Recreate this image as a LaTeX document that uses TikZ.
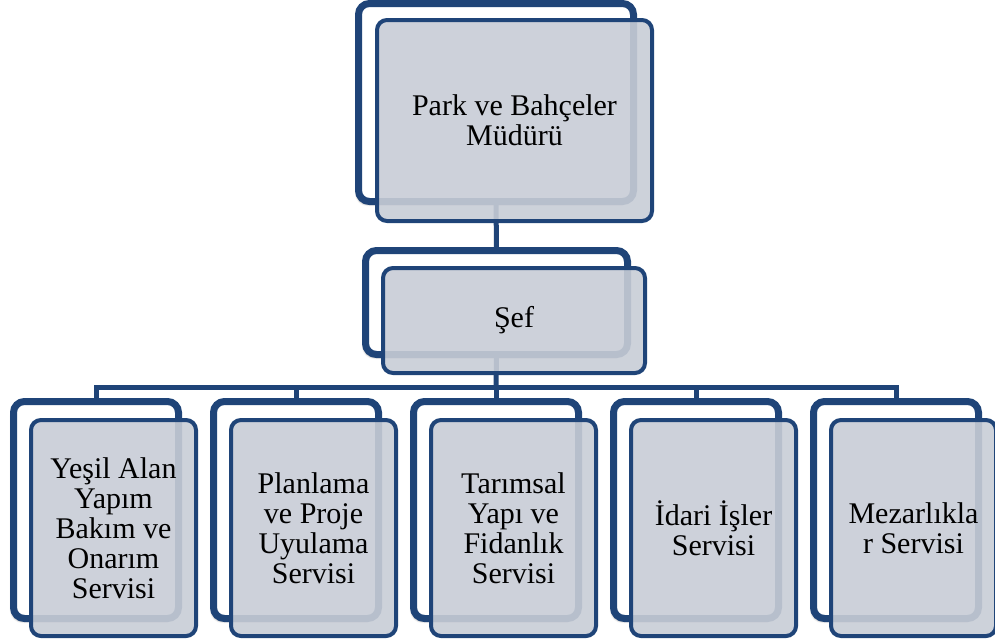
\documentclass[tikz,border=0pt]{standalone}
\usepackage{fontspec}
\setmainfont{Liberation Serif}
\usetikzlibrary{shadows.blur}
\definecolor{navy}{RGB}{31,68,120}
\definecolor{boxfill}{RGB}{200,205,214}
\begin{document}
\begin{tikzpicture}[x=1pt,y=-1pt,
  backbox/.style={draw=navy, line width=7pt, fill=white, rounded corners=11pt,
    inner sep=0pt, outer sep=0pt,
    blur shadow={shadow xshift=-2pt, shadow yshift=-3pt, shadow blur steps=6, shadow opacity=35}},
  frontbox/.style={draw=navy, line width=4pt, fill=boxfill, fill opacity=0.9, text opacity=1,
    rounded corners=10pt, inner sep=0pt, outer sep=0pt, align=center,
    font=\fontsize{30}{30}\selectfont},
  link/.style={draw=navy, line width=5pt}]
\useasboundingbox (0,0) rectangle (995,641);
% back boxes
\node[backbox, minimum width=275pt, minimum height=198pt] (b0) at (496,102.5) {};
\node[backbox, minimum width=262pt, minimum height=104pt] (b1) at (496.5,302.5) {};
\foreach \i in {1,...,5}{
  \node[backbox, minimum width=165pt, minimum height=217pt] (c\i) at ({96+200*(\i-1)},510) {};
}
% connectors
\coordinate (bus) at (496,387);
\draw[link] (b0.south) -- (b1.north);
\draw[link] (b1.south) -- (bus);
\foreach \i in {1,...,5}{
  \draw[link] (c\i.north) |- (bus);
}
% front boxes
\node[frontbox, minimum width=275pt, minimum height=201pt] (f0) at (514.5,120.5) {Park ve Bahçeler\\Müdürü};
\node[frontbox, minimum width=262pt, minimum height=105pt] (f1) at (514,320.5) {Şef};
\node[frontbox, minimum width=165pt, minimum height=216pt] (g1) at (113.5,528) {Yeşil Alan\\Yapım\\Bakım ve\\Onarım\\Servisi};
\node[frontbox, minimum width=165pt, minimum height=216pt] (g2) at (313.5,528) {Planlama\\ve Proje\\Uyulama\\Servisi};
\node[frontbox, minimum width=165pt, minimum height=216pt] (g3) at (513.5,528) {Tarımsal\\Yapı ve\\Fidanlık\\Servisi};
\node[frontbox, minimum width=165pt, minimum height=216pt] (g4) at (713.5,528) {İdari İşler\\Servisi};
\node[frontbox, minimum width=165pt, minimum height=216pt] (g5) at (913.5,528) {Mezarlıkla\\r Servisi};
\end{tikzpicture}
\end{document}
